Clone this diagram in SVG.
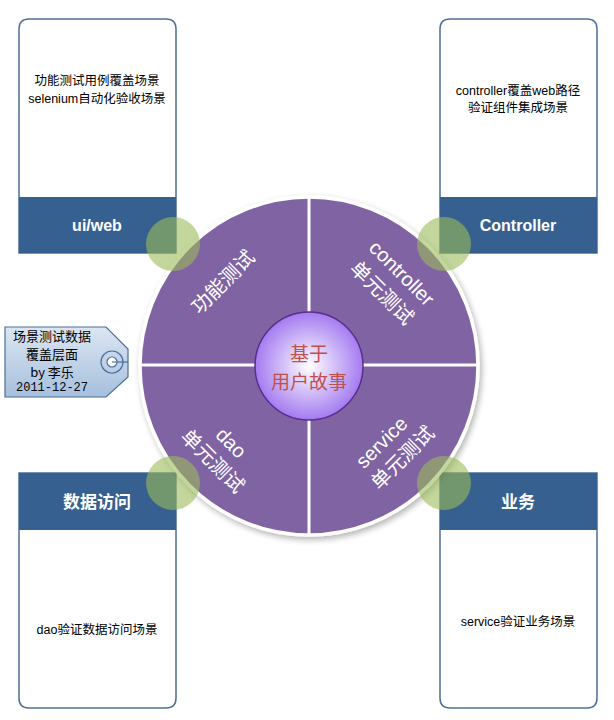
<svg xmlns="http://www.w3.org/2000/svg" width="614" height="720" viewBox="0 0 614 720">
<defs>
<style>
.card{fill:#fff;stroke:#4F6F99;stroke-width:1.5}
.hdr{fill:#36608F}
.htxt{font-family:"Liberation Sans","Noto Sans CJK SC",sans-serif;font-weight:bold;font-size:16px;fill:#fff;text-anchor:middle;dominant-baseline:central}
.btxt{font-family:"Liberation Sans","Noto Sans CJK SC",sans-serif;font-size:12.5px;fill:#000;text-anchor:middle;dominant-baseline:central}
.seg{font-family:"Liberation Sans","Noto Sans CJK SC",sans-serif;font-size:20px;fill:#fff;text-anchor:middle;dominant-baseline:central}
.ctr{font-family:"Noto Sans CJK SC",sans-serif;font-size:19px;fill:#C0504D;text-anchor:middle;dominant-baseline:central}
.tag{font-family:"Noto Sans CJK SC",sans-serif;font-size:13px;fill:#000;text-anchor:middle;dominant-baseline:central}
.green{fill:#9BBB59;fill-opacity:0.6}
.div{stroke:#fff;stroke-width:3}
</style>
<radialGradient id="cg" cx="0.5" cy="0.5" r="0.5">
<stop offset="0" stop-color="#FFFFFF"/>
<stop offset="1" stop-color="#A47BF0"/>
</radialGradient>
<linearGradient id="tg" x1="0" y1="0" x2="0" y2="1">
<stop offset="0" stop-color="#DCE6F2"/>
<stop offset="1" stop-color="#A6BFDD"/>
</linearGradient>
<filter id="sh" x="-10%" y="-10%" width="120%" height="120%">
<feGaussianBlur in="SourceAlpha" stdDeviation="3"/>
<feOffset dx="2" dy="3"/>
<feComponentTransfer><feFuncA type="linear" slope="0.3"/></feComponentTransfer>
<feMerge><feMergeNode/><feMergeNode in="SourceGraphic"/></feMerge>
</filter>
</defs>

<g id="card-uiweb">
<path class="card" d="M19,253 V29 Q19,19 29,19 H166 Q176,19 176,29 V253 Z"/>
<rect class="hdr" x="19" y="197" width="157" height="56"/>
<text class="btxt" x="97" y="81">功能测试用例覆盖场景</text>
<text class="btxt" x="97" y="99">selenium自动化验收场景</text>
<text class="htxt" x="97" y="225">ui/web</text>
</g>

<g id="card-controller">
<path class="card" d="M440,253 V29 Q440,19 450,19 H587 Q597,19 597,29 V253 Z"/>
<rect class="hdr" x="440" y="197" width="157" height="56"/>
<text class="btxt" x="518" y="91">controller覆盖web路径</text>
<text class="btxt" x="518" y="108">验证组件集成场景</text>
<text class="htxt" x="518" y="225">Controller</text>
</g>

<g id="card-dao">
<path class="card" d="M19,473 H176 V698 Q176,708 166,708 H29 Q19,708 19,698 Z"/>
<rect class="hdr" x="19" y="473" width="157" height="57"/>
<text class="htxt" x="97" y="502" style="font-size:17px">数据访问</text>
<text class="btxt" x="97" y="630">dao验证数据访问场景</text>
</g>

<g id="card-service">
<path class="card" d="M440,473 H597 V698 Q597,708 587,708 H450 Q440,708 440,698 Z"/>
<rect class="hdr" x="440" y="473" width="157" height="57"/>
<text class="htxt" x="518" y="502" style="font-size:17px">业务</text>
<text class="btxt" x="518" y="622">service验证业务场景</text>
</g>

<g id="wheel">
<circle cx="309" cy="366" r="169" fill="#8064A2" stroke="#fff" stroke-width="3.5" filter="url(#sh)"/>
</g>

<g id="connectors">
<line class="div" x1="309" y1="198" x2="309" y2="534"/>
<line class="div" x1="141" y1="365" x2="477" y2="365"/>
</g>

<g id="seg-func">
<text class="seg" transform="translate(223,282) rotate(-45)">功能测试</text>
</g>
<g id="seg-controller" transform="translate(392,283) rotate(45)">
<text class="seg" x="0" y="-14">controller</text>
<text class="seg" x="0" y="14">单元测试</text>
</g>
<g id="seg-dao" transform="translate(222,452) rotate(45)">
<text class="seg" x="0" y="-13">dao</text>
<text class="seg" x="0" y="13">单元测试</text>
</g>
<g id="seg-service" transform="translate(392,450) rotate(-45)">
<text class="seg" x="-2" y="-13">service</text>
<text class="seg" x="2" y="13">单元测试</text>
</g>

<g id="center">
<circle cx="309" cy="366" r="54" fill="url(#cg)" stroke="#5B2D90" stroke-width="1.5"/>
<text class="ctr" x="309" y="352">基于</text>
<text class="ctr" x="309" y="380">用户故事</text>
</g>

<g id="joints">
<circle class="green" cx="173" cy="244" r="27"/>
<circle class="green" cx="444" cy="244" r="27"/>
<circle class="green" cx="173" cy="483" r="27"/>
<circle class="green" cx="444" cy="483" r="27"/>
</g>

<g id="tag">
<path d="M5,327 H106 L128,349 V377 L106,397 H5 Z" fill="url(#tg)" stroke="#4A6F9C" stroke-width="1.2"/>
<circle cx="112" cy="362" r="11" fill="none" stroke="#4A6F9C" stroke-width="1.2"/>
<circle cx="112" cy="362" r="5" fill="#fff" stroke="#4A6F9C" stroke-width="1.2"/>
<line x1="112" y1="362" x2="128" y2="362" stroke="#4A6F9C" stroke-width="1.2"/>
<text class="tag" x="52" y="335">场景测试数据</text>
<text class="tag" x="52" y="353">覆盖层面</text>
<text class="tag" x="52" y="371">by 李乐</text>
<text class="tag" x="52" y="388" style="font-family:'Liberation Mono',monospace;font-size:12px">2011-12-27</text>
</g>
</svg>
